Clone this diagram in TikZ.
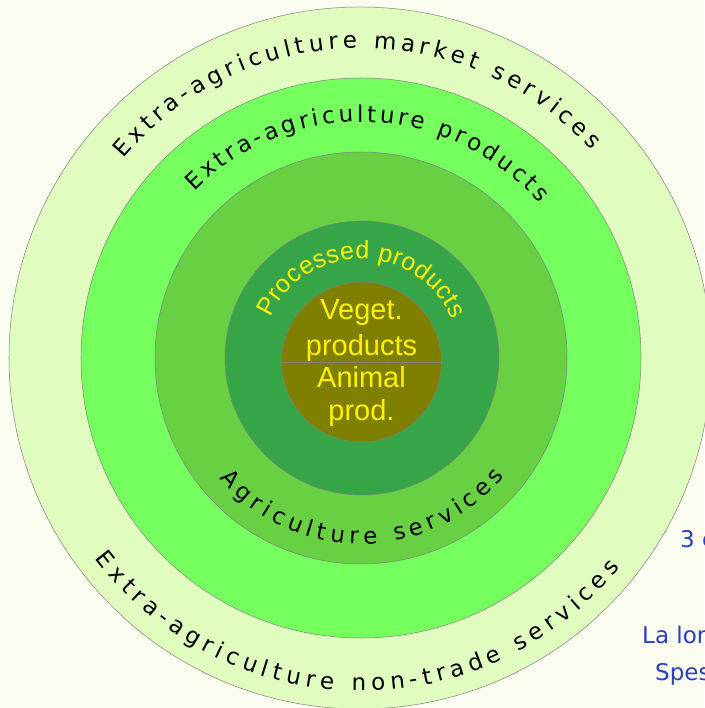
\documentclass[tikz,border=0pt]{standalone}
\usepackage{fontspec}
\setmainfont{DejaVu Sans}
\newfontfamily\ringfont{DejaVu Sans}
\newfontfamily\corefont{Liberation Sans}
\usetikzlibrary{decorations.text}
\definecolor{PaperBg}{HTML}{FAFCF0}
\definecolor{RingPale}{HTML}{E1FCBF}
\definecolor{RingBright}{HTML}{74FF5E}
\definecolor{RingMid}{HTML}{67D043}
\definecolor{RingDark}{HTML}{36A547}
\definecolor{CoreOlive}{HTML}{808000}
\definecolor{NoteBlue}{HTML}{2A3EC6}
\newcommand\bandfont{\ringfont\fontsize{23}{26}\selectfont}
\newcommand\yelfont{\corefont\fontsize{25}{28}\selectfont}

\begin{document}
\begin{tikzpicture}[x=1pt, y=1pt,
   ring/.style={draw=black!50, line width=0.5pt},
   arctext/.style={decorate, decoration={text along path, text align=fit to path,
                   text={#1}}},
   core/.style={font=\corefont\fontsize{29}{30}\selectfont, text=yellow, anchor=base, inner sep=0pt},
   note/.style={font=\ringfont\fontsize{23}{26}\selectfont, text=NoteBlue, anchor=base west, inner sep=0pt}]
  \fill[PaperBg] (-361,-350) rectangle (343,358);
  \useasboundingbox (-361,-350) rectangle (343,358);
  % rings
  \filldraw[ring, fill=RingPale]   (-1,0) circle[radius=351];
  \filldraw[ring, fill=RingBright] (0,0) circle[radius=280];
  \filldraw[ring, fill=RingMid]    (0,0) circle[radius=206];
  \filldraw[ring, fill=RingDark]   (1,0) circle[radius=137];
  \filldraw[ring, fill=CoreOlive]  (0.5,-4) circle[radius=80];
  \draw[ring] (-79.5,-4) -- (80.5,-4);
  % texts on the rings
  \path[arctext={|\bandfont|Extra-agriculture market services}]
    (140:310) arc[start angle=140, end angle=42, radius=310];
  \path[arctext={|\bandfont|Extra-agriculture products}]
    (135:236) arc[start angle=135, end angle=41, radius=236];
  \path[arctext={|\bandfont|Agriculture services}]
    (220.5:186) arc[start angle=220.5, end angle=320.5, radius=186];
  \path[arctext={|\bandfont|Extra-agriculture non-trade services}]
    (217:333) arc[start angle=217, end angle=321, radius=333];
  \path[arctext={|\yelfont|Processed products}, decoration={text color=yellow}]
    (156:99) arc[start angle=156, end angle=23, radius=99];
  % core
  \node[core] (veget)  at (0.5,38)  {Veget.};
  \node[core] (vprod)  at (0.5,2)   {products};
  \node[core] (animal) at (0.5,-30) {Animal};
  \node[core] (aprod)  at (0.5,-63) {prod.};
  % cut-off notes on the right
  \node[note] (three) at (319,-189) {3 c};
  \node[note] (lalon) at (281,-285) {La lon};
  \node[note] (spes)  at (294,-322) {Spes};
\end{tikzpicture}
\end{document}
